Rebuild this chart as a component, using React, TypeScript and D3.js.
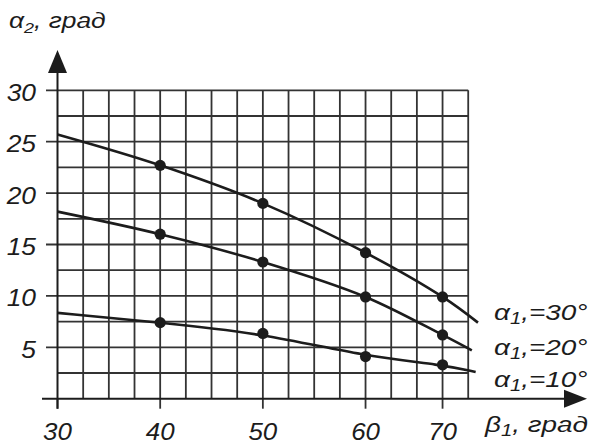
import React from "react";
import * as d3 from "d3";

// readings of the nomogram, beta1 in degrees -> alpha2 in degrees
const betaDots = [40, 50, 60, 70];
const alpha30 = [22.7, 19.0, 14.2, 9.9];
const alpha20 = [16.0, 13.3, 9.9, 6.2];
const alpha10 = [7.4, 6.35, 4.1, 3.3];

// where each curve starts and stops (beta, alpha)
const curveStart = [25.7, 18.2, 8.35];
const curveEndBeta = [74.6, 73.8, 74.3];
const curveEndAlpha = [7.4, 4.7, 2.6];
const curveNames = ["30°", "20°", "10°"];

const xTicks = [30, 40, 50, 60, 70];
const yTicks = [5, 10, 15, 20, 25, 30];

const W = 590;
const H = 445;
const x0 = 57.5;
const cell = 25.67;
const yBottom = 398.7;
const yTop = 90.3;

// the original drawing squeezes 60..70 into three cells instead of four
const x = d3
  .scaleLinear()
  .domain([30, 60, 70])
  .range([x0, x0 + 12 * cell, x0 + 15 * cell]);
const y = d3.scaleLinear().domain([0, 30]).range([yBottom, yTop]);

// the lowest curve is drawn smoothed past its dots, the others run through them
const curves = [d3.curveCatmullRom, d3.curveCatmullRom, d3.curveBasis];

const ink = "#1c1c1c";
const font = "'Liberation Sans', Arial, sans-serif";

export default function App() {
  const series = [alpha30, alpha20, alpha10];
  const xRight = x0 + 16 * cell;
  const hLines = d3.range(0, 30.01, 2.5);
  const vLines = d3.range(0, 17).map(i => x0 + i * cell);
  const labelY = [320, 355, 387];

  return (
    <svg
      width={W}
      height={H}
      style={{ position: "absolute", left: 0, top: 0, background: "#fff" }}
      fontFamily={font}
      fontStyle="italic"
    >
      {/* grid */}
      <g stroke="#333" strokeWidth={1.8}>
        {hLines.slice(1).map(v => (
          <line
            key={"h" + v}
            x1={v % 5 === 0 ? 46 : x0}
            x2={xRight}
            y1={y(v)}
            y2={y(v)}
          />
        ))}
        {vLines.slice(1).map((px, i) => (
          <line key={"v" + i} x1={px} x2={px} y1={yTop} y2={yBottom} />
        ))}
        {xTicks.map(t => (
          <line key={"t" + t} x1={x(t)} x2={x(t)} y1={yBottom} y2={yBottom + 10} />
        ))}
      </g>

      {/* axes */}
      <g stroke={ink} strokeWidth={2}>
        <line x1={42} x2={566} y1={yBottom} y2={yBottom} />
        <line x1={x0} x2={x0} y1={yBottom + 10} y2={72} />
      </g>
      <path d={`M${x0},50 L${x0 - 9.5},73 L${x0 + 9.5},73 Z`} fill={ink} />
      <path d={`M587,${yBottom} L564,${yBottom - 9} L564,${yBottom + 9} Z`} fill={ink} />

      {/* curves */}
      {series.map((s, k) => {
        const pts: [number, number][] = [
          [30, curveStart[k]],
          ...betaDots.map((b, i) => [b, s[i]] as [number, number]),
          [curveEndBeta[k], curveEndAlpha[k]],
        ];
        const line = d3
          .line<[number, number]>()
          .x(d => x(d[0]))
          .y(d => y(d[1]))
          .curve(curves[k]);
        return (
          <g key={"c" + k}>
            <path d={line(pts) || ""} fill="none" stroke={ink} strokeWidth={2.6} />
            {betaDots.map((b, i) => (
              <circle key={i} cx={x(b)} cy={y(s[i])} r={5.6} fill={ink} />
            ))}
          </g>
        );
      })}

      {/* tick labels */}
      <g fill={ink} fontSize={24}>
        {yTicks.map(t => (
          <text
            key={t}
            transform={`translate(36,${y(t)}) scale(1.1,1)`}
            dy="0.44em"
            textAnchor="end"
          >
            {t}
          </text>
        ))}
        {xTicks.map(t => (
          <text
            key={t}
            transform={`translate(${x(t)},440) scale(1.08,1)`}
            textAnchor="middle"
          >
            {t}
          </text>
        ))}
      </g>

      {/* titles */}
      <g fill={ink}>
        <text transform="translate(9,28) scale(1.2,1)" fontSize={22}>
          α<tspan fontSize={15} dy={5}>2</tspan>
          <tspan dy={-5}>, град</tspan>
        </text>
        <text transform="translate(485,432) scale(1.27,1)" fontSize={22}>
          β<tspan fontSize={16} dy={4}>1</tspan>
          <tspan dy={-4}>, град</tspan>
        </text>
        {curveNames.map((n, k) => (
          <text
            key={n}
            transform={`translate(494,${labelY[k]}) scale(1.27,1)`}
            fontSize={22}
          >
            α<tspan fontSize={16} dy={4}>1</tspan>
            <tspan dy={-4}>,={n}</tspan>
          </text>
        ))}
      </g>
    </svg>
  );
}
